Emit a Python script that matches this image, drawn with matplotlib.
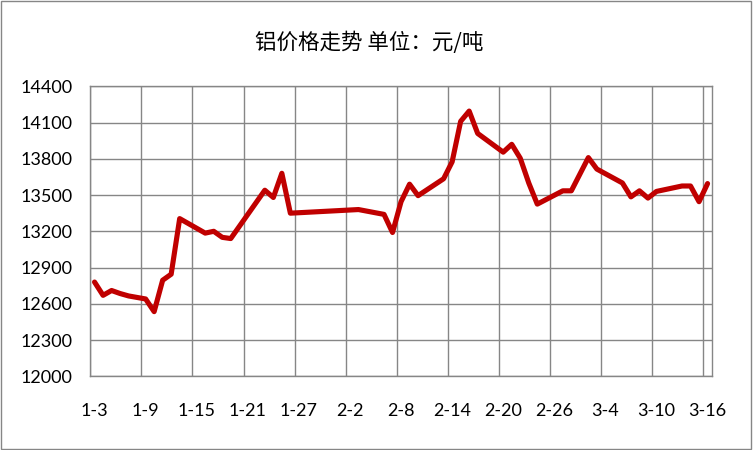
import matplotlib
matplotlib.use("Agg")
import matplotlib.pyplot as plt
from matplotlib.patches import Rectangle
import pandas as pd

# aluminium price, yuan per tonne
dates = ['1-3', '1-4', '1-5', '1-6', '1-7', '1-9', '1-10', '1-11', '1-12', '1-13',
         '1-16', '1-17', '1-18', '1-19', '1-23', '1-24', '1-25', '1-26',
         '2-3', '2-6', '2-7', '2-8', '2-9', '2-10', '2-13', '2-14', '2-15', '2-16',
         '2-17', '2-20', '2-21', '2-22', '2-23', '2-24', '2-27', '2-28',
         '3-2', '3-3', '3-6', '3-7', '3-8', '3-9', '3-10', '3-13', '3-14', '3-15', '3-16']
prices = [12780, 12670, 12710, 12685, 12665, 12640, 12535, 12795, 12845, 13305,
          13185, 13200, 13150, 13140, 13540, 13480, 13680, 13350,
          13380, 13340, 13190, 13445, 13590, 13495, 13635, 13775, 14110, 14195,
          14010, 13855, 13920, 13805, 13600, 13425, 13535, 13535,
          13810, 13715, 13600, 13485, 13535, 13475, 13530, 13575, 13575, 13445, 13595]
tick_labels = ['1-3', '1-9', '1-15', '1-21', '1-27', '2-2', '2-8', '2-14',
               '2-20', '2-26', '3-4', '3-10', '3-16']
title = '铝价格走势 单位：元/吨'

x = pd.to_datetime(['2011-' + d for d in dates])
ticks = pd.to_datetime(['2011-' + d for d in tick_labels])
half = pd.Timedelta(hours=12)

grey = '#868686'

fig = plt.figure(figsize=(7.53, 4.5), dpi=100)
ax = fig.add_axes([0.1199, 0.1638, 0.8254, 0.6444])

ax.plot(x, prices, color='#C00000', lw=3.7, solid_joinstyle='round', solid_capstyle='round', zorder=3)

ax.set_xlim(ticks[0] - half, ticks[-1] + half)
ax.set_ylim(12000, 14400)
ax.set_yticks(range(12000, 14401, 300))
ax.set_xticks(ticks)
ax.set_xticklabels(tick_labels)
ax.set_xticks(ticks - half, minor=True)

ax.grid(which='minor', axis='x', color=grey, lw=1)
ax.grid(which='major', axis='y', color=grey, lw=1)
ax.grid(which='major', axis='x', visible=False)
ax.tick_params(which='both', length=0)
ax.tick_params(axis='y', pad=13, labelsize=13)
ax.tick_params(axis='x', pad=19, labelsize=13)
for lab in ax.get_xticklabels() + ax.get_yticklabels():
    lab.set_family(['Lato', 'DejaVu Sans'])
for s in ax.spines.values():
    s.set_color(grey)
    s.set_linewidth(1)

fig.text(0.49, 1 - 43 / 450, title, ha='center', va='center', fontsize=15.5,
         weight='medium', family=['Noto Sans CJK SC', 'DejaVu Sans'])

fig.patches.append(Rectangle((0.001, 0.002), 0.997, 0.995, transform=fig.transFigure,
                             fill=False, ec=grey, lw=1))

fig.savefig('out.png', dpi=100)
